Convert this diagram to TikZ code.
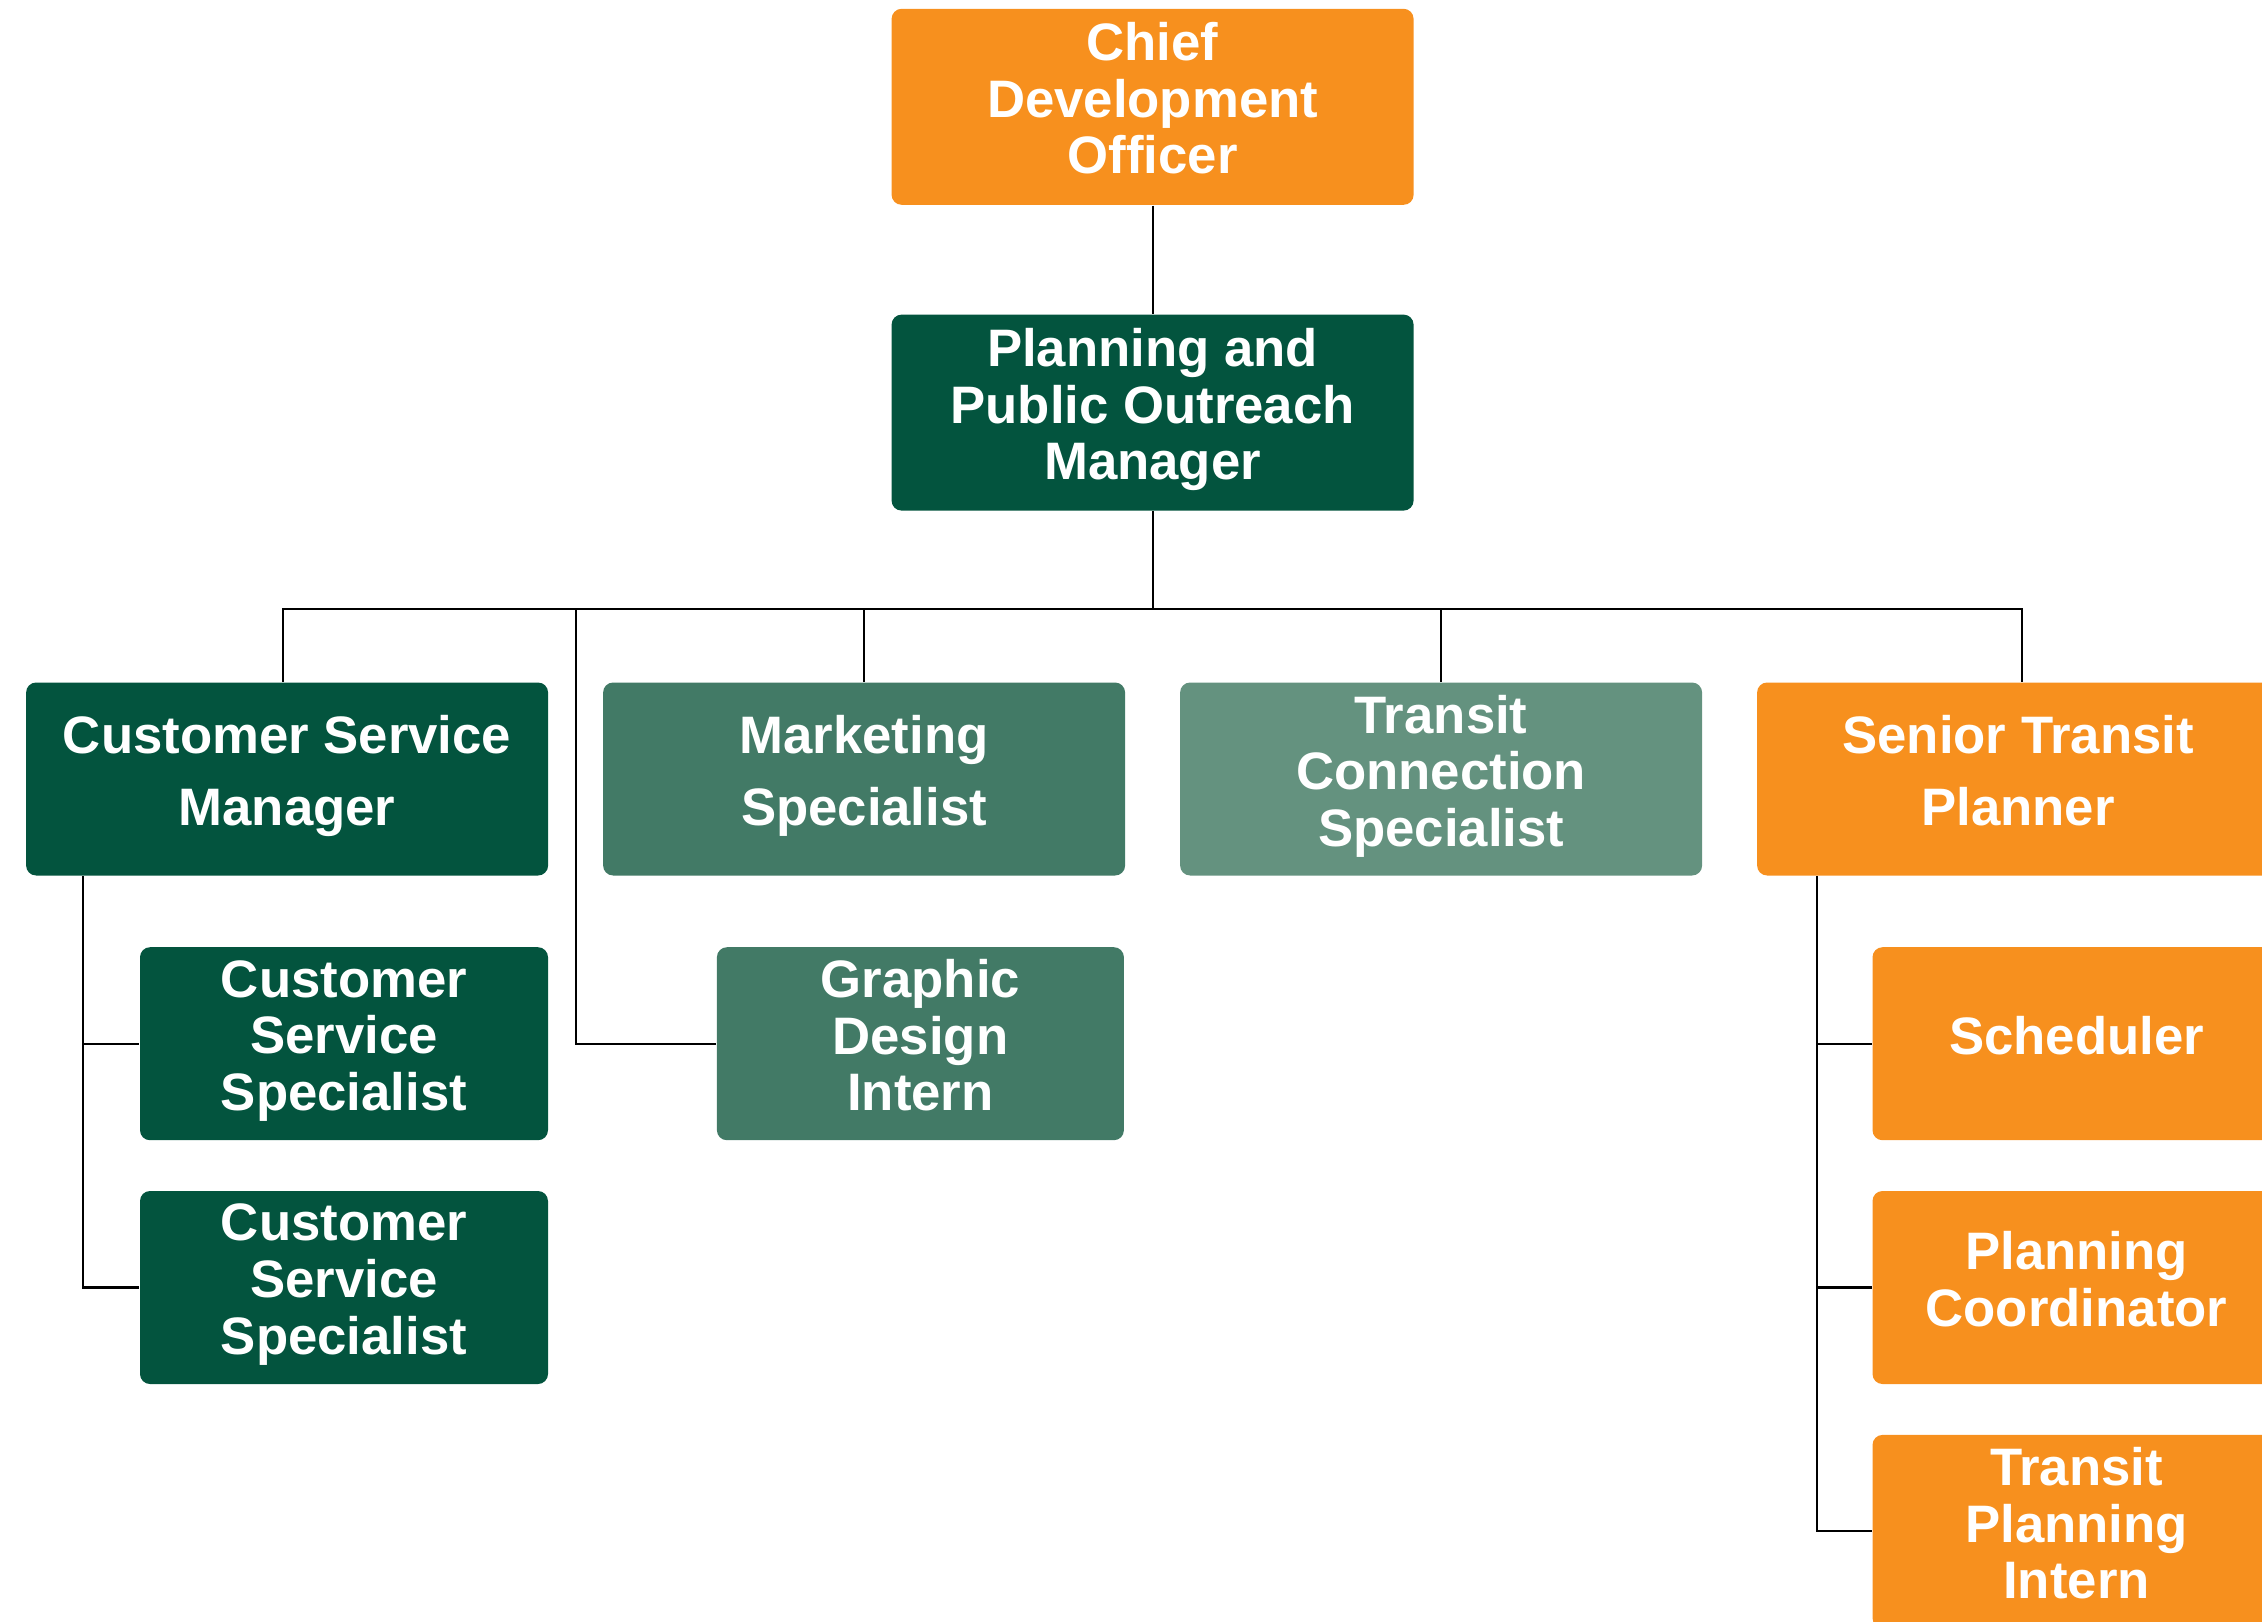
\documentclass[tikz,border=0pt]{standalone}
\usepackage{fontspec}
\setmainfont{Liberation Sans}
\usetikzlibrary{calc,positioning}

\definecolor{chartorange}{HTML}{F7901E}
\definecolor{darkgreen}{HTML}{03543E}
\definecolor{midgreen}{HTML}{427A66}
\definecolor{lightgreen}{HTML}{64927F}

\begin{document}
\begin{tikzpicture}[node distance=5.77cm,
    role/.style={rectangle, rounded corners=0.1cm, text=white, align=center, inner sep=0pt,
      text depth=0.17cm, minimum width=5.22cm, minimum height=1.93cm,
      font=\bfseries\fontsize{15}{16.1}\selectfont},
    subrole/.style={role, minimum width=4.08cm},
    wide/.style={font=\bfseries\fontsize{15}{20.5}\selectfont},
    link/.style={draw=black, line width=0.6pt}]
  \useasboundingbox (0,0) rectangle (22.62,-16.21);
  \clip (0,0) rectangle (22.62,-16.21);

  % top of the chart
  \node (cdo) [role, fill=chartorange, minimum height=1.96cm] at (11.526,-1.068)
    {Chief\\ Development\\ Officer};
  \node (ppom) [role, fill=darkgreen, minimum height=1.96cm] at (11.526,-4.126)
    {Planning and\\ Public Outreach\\ Manager};

  % second row
  \node (csm) [role, wide, fill=darkgreen] at (2.871,-7.79)
    {Customer Service\\ Manager};
  \node (mkt) [role, wide, fill=midgreen, right of=csm]
    {Marketing\\ Specialist};
  \node (tcs) [role, fill=lightgreen, right of=mkt]
    {Transit\\ Connection\\ Specialist};
  \node (stp) [role, wide, fill=chartorange, right of=tcs]
    {Senior Transit\\ Planner};

  % staff under each lead
  \node (css1) [subrole, fill=darkgreen] at (3.44,-10.437)
    {Customer\\ Service\\ Specialist};
  \node (css2) [subrole, fill=darkgreen] at (3.44,-12.875)
    {Customer\\ Service\\ Specialist};
  \node (gdi) [subrole, fill=midgreen, minimum width=4.07cm] at (9.204,-10.437)
    {Graphic\\ Design\\ Intern};
  \node (sched) [subrole, fill=chartorange] at (20.765,-10.437)
    {Scheduler};
  \node (pcoord) [subrole, fill=chartorange] at (20.765,-12.875)
    {Planning\\ Coordinator};
  \node (tpi) [subrole, fill=chartorange] at (20.765,-15.314)
    {Transit\\ Planning\\ Intern};

  % connectors
  \draw[link] (cdo) -- (ppom);
  \coordinate (bus) at ($(ppom.south)+(0,-0.981)$);
  \coordinate (split) at ($(csm.east)!0.5!(mkt.west)$);
  \draw[link] (ppom) -- (bus);
  \draw[link] ([xshift=-0.04cm]csm.north) |- (bus) -| ([xshift=0.04cm]stp.north);
  \draw[link] (mkt.north) -- (mkt.north |- bus);
  \draw[link] (tcs.north) -- (tcs.north |- bus);
  \draw[link] (gdi.west) -| (split |- bus);

  \draw[link] ([xshift=0.58cm]csm.south west) |- (css2.west);
  \draw[link] ([xshift=0.58cm]csm.south west) |- (css1.west);
  \draw[link] ([xshift=0.61cm]stp.south west) |- (tpi.west);
  \draw[link] ([xshift=0.61cm]stp.south west) |- (pcoord.west);
  \draw[link] ([xshift=0.61cm]stp.south west) |- (sched.west);
\end{tikzpicture}
\end{document}
